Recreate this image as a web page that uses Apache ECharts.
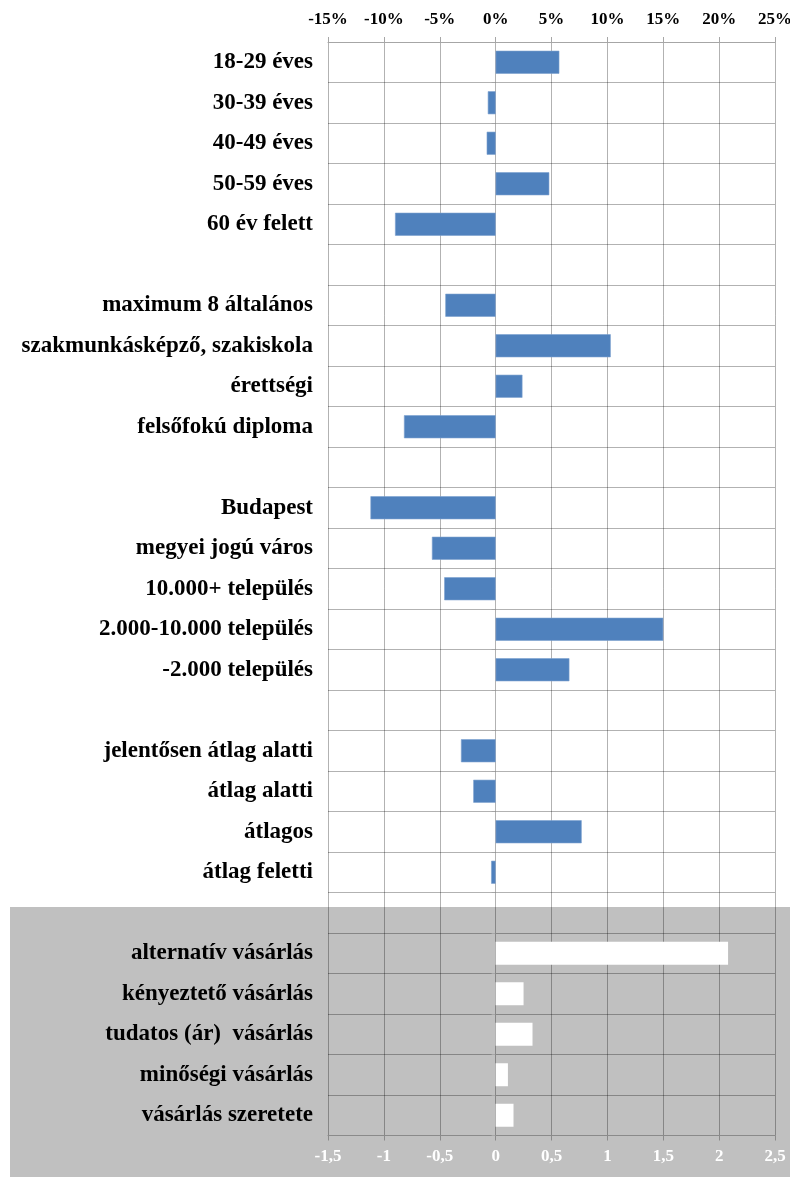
<!DOCTYPE html>
<html>
<head>
<meta charset="utf-8">
<style>
  html, body { margin: 0; padding: 0; background: #fff; }
  #chart { width: 790px; height: 1177px; }
</style>
<script src="https://cdn.jsdelivr.net/npm/echarts@6/dist/echarts.min.js"></script>
</head>
<body>
<div id="chart"></div>
<script>
// Row labels, top to bottom; empty strings are spacer rows between groups
const categories = [
  '18-29 éves', '30-39 éves', '40-49 éves', '50-59 éves', '60 év felett',
  '',
  'maximum 8 általános', 'szakmunkásképző, szakiskola', 'érettségi', 'felsőfokú diploma',
  '',
  'Budapest', 'megyei jogú város', '10.000+ település', '2.000-10.000 település', '-2.000 település',
  '',
  'jelentősen átlag alatti', 'átlag alatti', 'átlagos', 'átlag feletti',
  '',
  'alternatív vásárlás', 'kényeztető vásárlás', 'tudatos (ár)  vásárlás', 'minőségi vásárlás', 'vásárlás szeretete'
];

// Deviation in percent (top axis), one per demographic row
const percentValues = [
  5.7, -0.7, -0.8, 4.8, -9.0,
  null,
  -4.5, 10.3, 2.4, -8.2,
  null,
  -11.2, -5.7, -4.6, 15.0, 6.6,
  null,
  -3.1, -2.0, 7.7, -0.4,
  null,
  null, null, null, null, null
];

// Shopping style scores (bottom axis)
const styleValues = [
  null, null, null, null, null,
  null,
  null, null, null, null,
  null,
  null, null, null, null, null,
  null,
  null, null, null, null,
  null,
  2.08, 0.25, 0.33, 0.11, 0.16
];

// Axis ranges and tick steps
const percentTicks = { min: -15, max: 25, step: 5 };
const scoreTicks = { min: -1.5, max: 2.5, step: 0.5 };

const chart = echarts.init(document.getElementById('chart'), null, { renderer: 'canvas' });

const serif = '"Liberation Serif", "Times New Roman", serif';
const gridLine = 'rgba(0,0,0,0.3)';

chart.setOption({
  backgroundColor: '#ffffff',
  animation: false,
  graphic: [{
    type: 'rect',
    z: -10,
    silent: true,
    shape: { x: 10, y: 907, width: 780, height: 270 },
    style: { fill: '#c0c0c0' }
  }],
  grid: { left: 328, right: 15, top: 42, bottom: 41.5, containLabel: false, outerBoundsMode: 'none' },
  xAxis: [
    {
      type: 'value',
      position: 'top',
      min: percentTicks.min,
      max: percentTicks.max,
      interval: percentTicks.step,
      axisLine: { show: true, lineStyle: { color: '#a6a6a6', width: 1 } },
      axisTick: { show: true, length: 5, lineStyle: { color: '#a6a6a6' } },
      axisLabel: {
        margin: 14,
        color: '#000',
        fontFamily: serif,
        fontWeight: 'bold',
        fontSize: 17,
        formatter: v => v + '%'
      },
      splitLine: { show: true, lineStyle: { color: gridLine, width: 1 } }
    },
    {
      type: 'value',
      position: 'bottom',
      min: scoreTicks.min,
      max: scoreTicks.max,
      interval: scoreTicks.step,
      axisLine: { show: true, lineStyle: { color: '#8a8a8a', width: 1 } },
      axisTick: { show: true, length: 5, lineStyle: { color: '#8a8a8a' } },
      axisLabel: {
        margin: 13,
        color: '#ffffff',
        fontFamily: serif,
        fontWeight: 'bold',
        fontSize: 17,
        formatter: v => String(v).replace('.', ',')
      },
      splitLine: { show: false }
    }
  ],
  yAxis: [
    {
      type: 'category',
      inverse: true,
      data: categories,
      axisLine: { show: false },
      axisTick: { show: false },
      axisLabel: {
        margin: 15,
        color: '#000',
        fontFamily: serif,
        fontWeight: 'bold',
        fontSize: 23,
        interval: 0
      },
      splitLine: { show: true, lineStyle: { color: gridLine, width: 1 } }
    },
    {
      // zero-line tick marks between rows
      type: 'category',
      inverse: true,
      data: categories,
      position: 'left',
      offset: -167,
      axisLine: { show: false },
      axisTick: { show: true, length: 4, interval: 0, lineStyle: { color: '#a6a6a6' } },
      axisLabel: { show: false },
      splitLine: { show: false }
    }
  ],
  series: [
    {
      type: 'bar',
      xAxisIndex: 0,
      yAxisIndex: 0,
      data: percentValues,
      barWidth: 23,
      barGap: '-100%',
      itemStyle: { color: '#4f81bd', borderColor: '#7a9fcf', borderWidth: 0.6 },
      z: 3
    },
    {
      type: 'bar',
      xAxisIndex: 1,
      yAxisIndex: 0,
      data: styleValues,
      barWidth: 23,
      barGap: '-100%',
      itemStyle: { color: '#ffffff' },
      z: 3
    }
  ]
});
</script>
</body>
</html>
